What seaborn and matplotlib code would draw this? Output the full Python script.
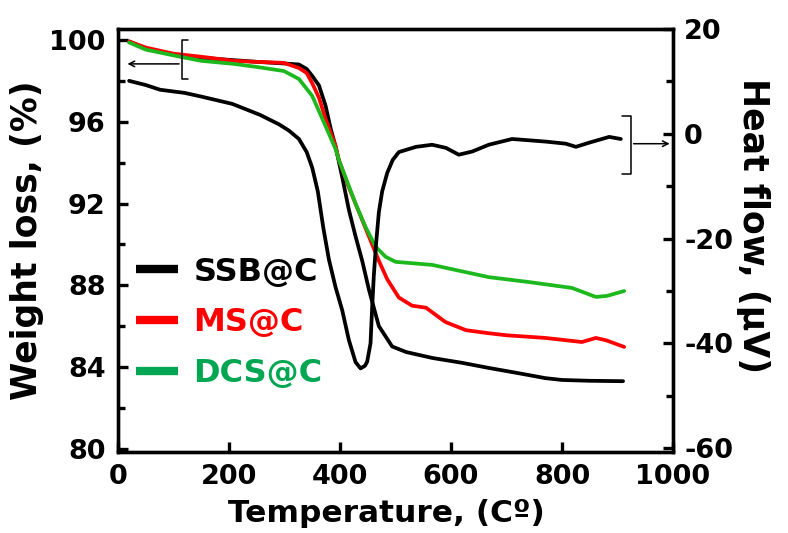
import matplotlib
matplotlib.use("Agg")
import matplotlib.pyplot as plt
import seaborn as sns
import pandas as pd
from matplotlib.lines import Line2D
from matplotlib.ticker import MultipleLocator

# ---------------- data ----------------
temp_ssb = [20, 50, 100, 150, 200, 250, 300, 326, 340, 350, 362, 374, 383, 392, 404, 416, 428, 440,
            452, 470, 494, 519, 566, 620, 668, 720, 770, 800, 850, 910]
wt_ssb = [99.95, 99.6, 99.3, 99.15, 99.05, 98.95, 98.87, 98.82, 98.6, 98.26, 97.8, 96.8, 95.7, 94.8,
          93.3, 91.7, 90.4, 89.2, 87.8, 86.0, 85.0, 84.73, 84.44, 84.2, 83.95, 83.7, 83.45, 83.36, 83.32, 83.3]

temp_ms = [20, 50, 100, 150, 209, 250, 299, 326, 340, 350, 362, 374, 392, 398, 416, 440, 455, 470,
           485, 506, 530, 555, 590, 627, 668, 700, 770, 836, 861, 880, 912]
wt_ms = [99.95, 99.65, 99.35, 99.2, 99.0, 98.95, 98.9, 98.65, 98.4, 97.9, 97.2, 96.15, 94.83, 94.14,
         92.8, 91.2, 90.2, 89.2, 88.3, 87.4, 87.0, 86.9, 86.2, 85.8, 85.65, 85.55, 85.42, 85.22, 85.42, 85.3, 84.98]

temp_dcs = [20, 50, 112, 150, 209, 250, 299, 326, 350, 374, 392, 398, 428, 446, 464, 482, 500, 566,
            600, 668, 740, 818, 861, 881, 912]
wt_dcs = [99.9, 99.55, 99.2, 99.0, 98.85, 98.7, 98.5, 98.11, 97.28, 95.8, 94.68, 94.14, 92.0, 90.86,
          89.9, 89.4, 89.15, 89.0, 88.8, 88.4, 88.16, 87.87, 87.43, 87.48, 87.72]

temp_dsc = [20, 50, 76, 120, 150, 206, 256, 290, 308, 326, 340, 350, 360, 370, 380, 392, 404, 416,
            428, 437, 445, 449, 455, 458, 461, 465, 470, 476, 485, 495, 506, 537, 566, 591, 614,
            638, 668, 710, 771, 807, 825, 849, 885, 906]
heat_dsc = [10.1, 9.3, 8.4, 7.8, 7.1, 5.7, 3.6, 1.8, 0.6, -1.0, -3.5, -6.5, -11.0, -18.0, -24.0,
            -29.3, -33.7, -39.4, -43.6, -44.8, -44.3, -43.5, -40.0, -33.0, -27.0, -21.0, -15.0,
            -11.0, -7.5, -5.0, -3.5, -2.5, -2.1, -2.7, -4.0, -3.4, -2.1, -1.0, -1.5, -1.9, -2.5,
            -1.7, -0.6, -1.0]

labels = ["SSB@C", "MS@C", "DCS@C"]
x_ticks = [0, 200, 400, 600, 800, 1000]
yl_ticks = [80, 84, 88, 92, 96, 100]
yr_ticks = [-60, -40, -20, 0, 20]

# ---------------- style ----------------
sns.set_style("ticks")
plt.rcParams["font.family"] = ["DejaVu Sans"]
plt.rcParams["font.weight"] = "bold"
plt.rcParams["axes.labelweight"] = "bold"
plt.rcParams["axes.labelcolor"] = "black"
plt.rcParams["text.color"] = "black"
plt.rcParams["xtick.color"] = "black"
plt.rcParams["ytick.color"] = "black"

BLACK = "#000000"
RED = "#FF0000"
GREEN_LINE = "#1DB81D"
GREEN_TXT = "#00A651"

fig = plt.figure(figsize=(7.88, 5.33), dpi=100)
ax = fig.add_axes([118 / 788, 1 - 452 / 533, (673 - 118) / 788, (452 - 29) / 533])
ax2 = ax.twinx()

lw = 2.7
sns.lineplot(data=pd.DataFrame({"T": temp_ssb, "W": wt_ssb}), x="T", y="W", ax=ax, color=BLACK, lw=lw)
sns.lineplot(data=pd.DataFrame({"T": temp_ms, "W": wt_ms}), x="T", y="W", ax=ax, color=RED, lw=lw)
sns.lineplot(data=pd.DataFrame({"T": temp_dcs, "W": wt_dcs}), x="T", y="W", ax=ax, color=GREEN_LINE, lw=lw)
sns.lineplot(data=pd.DataFrame({"T": temp_dsc, "H": heat_dsc}), x="T", y="H", ax=ax2, color=BLACK, lw=lw)

ax.set_xlim(0, 1000)
ax.set_ylim(79.83, 100.56)
ax2.set_ylim(-60.76, 19.8)
ax.set_xticks(x_ticks)
ax.set_xticklabels([str(v) for v in x_ticks])
ax.set_yticks(yl_ticks)
ax.set_yticklabels([str(v) for v in yl_ticks])
ax.yaxis.set_minor_locator(MultipleLocator(2))
ax2.set_yticks(yr_ticks)
ax2.set_yticklabels([str(v) for v in yr_ticks])
ax2.yaxis.set_minor_locator(MultipleLocator(10))

for a in (ax, ax2):
    for s in a.spines.values():
        s.set_linewidth(2.4)
        s.set_color("black")
ax.tick_params(axis="both", which="major", direction="in", length=7, width=2.4,
               labelsize=19.5, pad=9, colors="black")
ax.tick_params(axis="y", which="minor", direction="in", length=5, width=2.4)
ax.tick_params(axis="x", which="minor", length=0)
ax2.tick_params(axis="y", which="major", direction="in", length=7, width=2.4,
                labelsize=19.5, pad=8, colors="black")
ax2.tick_params(axis="y", which="minor", direction="in", length=5, width=2.4)
for t in ax.get_xticklabels() + ax.get_yticklabels() + ax2.get_yticklabels():
    t.set_fontweight("bold")

ax.set_xlabel("Temperature, (Cº)", fontsize=22.5, fontweight="bold", color="black")
ax.xaxis.set_label_coords(0.484, -0.112)
ax.set_ylabel("Weight loss, (%)", fontsize=25, fontweight="bold", color="black", labelpad=4)
ax2.set_ylabel("Heat flow, (µV)", fontsize=25, fontweight="bold", color="black", rotation=-90)
ax2.yaxis.set_label_coords(1.175, 0.535)

# brackets and arrows
ax.plot([126, 115, 115, 126], [100.0, 100.0, 98.1, 98.1], color="black", lw=1.1)
ax.annotate("", xy=(12, 98.85), xytext=(115, 98.85),
            arrowprops=dict(arrowstyle="->", color="black", lw=1.1))
ax2.plot([908, 924, 924, 908], [3.4, 3.4, -7.6, -7.6], color="black", lw=1.1)
ax2.annotate("", xy=(999, -1.9), xytext=(924, -1.9),
             arrowprops=dict(arrowstyle="->", color="black", lw=1.1))

# legend
handles = [Line2D([0], [0], color=BLACK, lw=6, solid_capstyle="butt"),
           Line2D([0], [0], color=RED, lw=6, solid_capstyle="butt"),
           Line2D([0], [0], color=GREEN_TXT, lw=6, solid_capstyle="butt")]
leg = ax.legend(handles, labels, loc="center left", bbox_to_anchor=(0.0325, 0.305),
                frameon=False, borderpad=0, borderaxespad=0, handlelength=1.3,
                handletextpad=0.5, labelspacing=0.62,
                prop={"family": "DejaVu Sans", "weight": "bold", "size": 23})
for txt, c in zip(leg.get_texts(), [BLACK, RED, GREEN_TXT]):
    txt.set_color(c)

fig.savefig("out.png", dpi=100)
